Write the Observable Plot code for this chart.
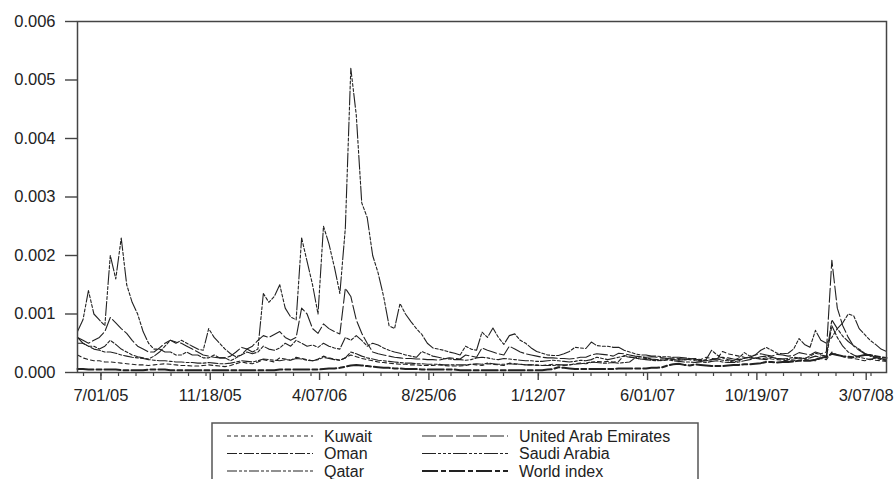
<!DOCTYPE html>
<html>
<head>
<meta charset="utf-8">
<script src="https://cdn.jsdelivr.net/npm/d3@7"></script>
<script src="https://cdn.jsdelivr.net/npm/@observablehq/plot@0.6"></script>
<style>
  html, body { margin: 0; padding: 0; background: #fff; overflow: hidden; }
  #wrap { position: relative; width: 895px; height: 479px; overflow: hidden; font-family: "Liberation Sans", Arial, sans-serif; }
  #chart { position: absolute; left: 0; top: 0; }
  #legend { position: absolute; left: 211px; top: 422px; }
</style>
</head>
<body>
<div id="wrap">
  <div id="chart"></div>
  <svg id="legend" width="488" height="80"></svg>
</div>
<script>
// ---- data (weekly samples, values in units of 1e-4) ----
const startDate = "2005-06-01";
const weeks = 149;

const saudiArabia = [
  7, 9, 14, 10, 9, 8, 20, 16, 23, 15,
  12, 10, 7, 5, 4, 4, 3.5, 3.5, 3, 3,
  3.5, 3, 3, 2.5, 2.5, 3, 2.5, 2.5, 2, 2.5,
  3, 4, 3.5, 4, 13.5, 12, 13, 15, 11, 9.5,
  9, 23, 19, 15, 10, 25, 22, 18, 13.5, 24.7,
  52, 44, 29, 26.5, 20, 17, 13, 8, 7.5, 11.8,
  10, 8.7, 7.5, 6.5, 5, 4.2, 4, 3.8, 3.5, 3.3,
  3, 4.5, 4, 3.8, 6.9, 6, 7.6, 6, 4.8, 6.3,
  6.6, 5.5, 5, 4.2, 3.6, 3.3, 3, 2.9, 2.9, 3.2,
  3.6, 4.3, 4.2, 4.1, 5.2, 4.6, 4.5, 4.5, 4.3, 4.3,
  3.8, 3.5, 3.2, 3, 3, 2.8, 2.8, 2.7, 2.7, 2.6,
  2.6, 2.5, 2.4, 2.2, 2, 2.2, 3.8, 3, 2.5, 2.2,
  2, 2.5, 3.4, 2.8, 3, 3.8, 4.3, 3.8, 3.3, 3.2,
  3.3, 4, 5.8, 4.8, 4.3, 7.2, 5.5, 5, 6, 7.5,
  8.5, 10, 9.7, 7.5, 6.5, 5.5, 4.8, 4, 3.6
];
const uae = [
  6, 5.5, 5, 5.5, 6, 7, 9.4, 8.5, 7.5, 6.7,
  5.5, 4.5, 4, 3.5, 3.5, 4.2, 5, 5.5, 5.2, 5,
  4.5, 4, 3.5, 3, 2.8, 2.6, 2.5, 2.5, 2.8, 3.5,
  4.3, 4, 4.5, 5.5, 6.3, 6, 6.5, 7, 6, 5.5,
  6, 11, 10, 7.5, 6.7, 8.3, 7.5, 7, 6.6, 14.4,
  13, 9, 6.7, 5, 3.5, 3.2, 3, 2.8, 2.6, 2.5,
  2.4, 2.4, 2.3, 2.3, 2.2, 2.2, 2.1, 2.3, 2.5, 2.4,
  2.3, 3, 2.8, 2.6, 4.2, 3.8, 3.5, 3.2, 3, 4.5,
  4, 3.5, 3.2, 3, 2.8, 2.6, 2.5, 2.5, 2.4, 2.4,
  2.3, 2.4, 2.6, 2.6, 3, 3.2, 3.1, 3, 2.8, 3.3,
  3.2, 3, 2.8, 2.7, 2.6, 2.7, 2.6, 2.5, 2.4, 2.5,
  2.4, 2.3, 2.2, 2, 1.9, 2, 2.2, 2.4, 2.6, 2.5,
  2.3, 2.2, 2.4, 2.6, 3, 3.2, 3, 2.8, 3.1, 3,
  2.8, 2.9, 3.4, 3.2, 3, 3.5, 3.2, 3.5, 19.2, 11,
  8, 6, 4.5, 3.8, 3.2, 3, 2.6, 2.4, 2.2
];
const qatar = [
  5, 5, 4.5, 4.5, 4, 4.5, 5.5, 4.8, 4, 3.5,
  3, 2.7, 2.5, 2.3, 2.8, 3.5, 4.5, 5.5, 5, 5.5,
  5, 4.5, 4, 3.8, 7.5, 6, 5, 4, 3.2, 2.7,
  3, 3.5, 3.2, 3.5, 4.5, 4, 3.8, 4.2, 5, 4.5,
  5.5, 5, 4.5, 4.7, 4.3, 5, 4.5, 4.2, 4, 6,
  5.5, 6.3, 5.5, 4.5, 5, 4.7, 4.2, 3.8, 3.5, 3.3,
  3, 2.8, 2.6, 3.6, 3.2, 2.8, 2.6, 2.4, 2.3, 2.2,
  2.2, 2.1, 2.2, 2.5, 2.6, 2.5, 2.3, 2.2, 2.4, 2.3,
  2.2, 2.1, 2, 2, 1.9, 1.9, 2, 2.1, 2, 1.9,
  1.8, 1.9, 2.1, 2, 2.2, 2.6, 2.4, 2.2, 2.4, 2.6,
  2.8, 2.6, 2.5, 2.7, 2.5, 2.3, 2.2, 2.3, 2.4, 2.2,
  2.1, 2.2, 2.4, 2.3, 2.1, 2, 2.2, 2.3, 2.1, 2,
  1.8, 2, 2.5, 2.6, 2.4, 2.7, 2.8, 2.6, 2.4, 2.3,
  2.4, 2.6, 2.5, 2.4, 2.8, 3.3, 3, 2.8, 9, 7.5,
  6.2, 5.3, 4.6, 4, 3.3, 2.8, 2.5, 2.2, 2
];
const kuwait = [
  3, 2.5, 2.2, 2, 2, 1.8, 1.8, 1.7, 1.6, 1.5,
  1.4, 1.3, 1.3, 1.2, 1.3, 1.4, 1.5, 1.4, 1.3, 1.2,
  1.2, 1.1, 1.1, 1.2, 1.3, 1.2, 1.1, 1, 1.2, 1.5,
  1.8, 1.6, 1.5, 1.8, 2.2, 2, 1.8, 2.5, 2.3, 2.1,
  2.6, 2.4, 2.2, 2, 2.3, 2.8, 2.5, 2.3, 2.1, 2.5,
  3, 2.7, 2.4, 2.2, 2, 1.8, 1.7, 1.6, 1.5, 1.4,
  1.4, 1.3, 1.3, 1.2, 1.2, 1.2, 1.3, 1.2, 1.1, 1.1,
  1.1, 1.2, 1.4, 1.3, 1.2, 1.5, 1.4, 1.3, 1.2, 1.6,
  1.5, 1.4, 1.3, 1.3, 1.2, 1.2, 1.3, 1.4, 1.3, 1.2,
  1.3, 1.5, 1.6, 1.5, 1.7, 1.9, 1.8, 1.9, 1.8, 1.9,
  2.9, 2.7, 2.5, 2.3, 2.4, 2.2, 2.1, 2, 2.2, 2.3,
  2.2, 2.1, 2.3, 2.4, 2.2, 2.6, 2.4, 2.3, 3.6, 3.2,
  3, 2.8, 2.6, 2.5, 2.4, 2.3, 2.5, 2.3, 2.2, 2.1,
  2, 2, 2.1, 2.2, 2.1, 2, 2.4, 2.2, 3.5, 3,
  2.7, 2.5, 2.4, 2.2, 2, 2.3, 2.1, 2, 1.9
];
const oman = [
  6, 5, 4.5, 4, 3.8, 3.5, 3.5, 3.3, 3, 2.8,
  2.6, 2.5, 2.4, 2.2, 2.1, 2, 2, 1.9, 1.8, 1.8,
  1.7, 1.7, 1.6, 1.6, 1.7, 1.6, 1.5, 1.5, 1.6, 1.8,
  2, 1.9, 1.8, 2, 2.3, 2.2, 2.1, 2, 2.2, 2.1,
  2.4, 2.3, 2.1, 2, 2.2, 2.6, 2.4, 2.2, 2.1, 2.5,
  3.5, 3.2, 2.8, 2.5, 2.3, 2.1, 2, 1.9, 1.8, 1.7,
  1.6, 1.6, 1.5, 1.5, 1.4, 1.4, 1.4, 1.3, 1.3, 1.3,
  1.3, 1.3, 1.4, 1.5, 1.4, 1.6, 1.5, 1.4, 1.4, 1.5,
  1.4, 1.4, 1.3, 1.3, 1.3, 1.2, 1.2, 1.2, 1.3, 1.3,
  1.3, 1.4, 1.5, 1.6, 1.8, 1.7, 1.6, 1.6, 1.7, 1.6,
  1.7, 1.8, 2.5, 2.3, 2.2, 2.1, 2, 2.1, 2.2, 2,
  1.9, 1.8, 1.8, 1.7, 1.8, 1.7, 1.9, 2, 1.8, 1.7,
  1.7, 1.8, 2, 2.2, 2.5, 2.3, 2.2, 2.6, 2.4, 2.3,
  2.2, 2.3, 2.5, 2.4, 2.5, 2.8, 2.6, 2.5, 8, 6,
  4.5, 3.5, 3, 2.6, 2.4, 2.2, 2.5, 2.3, 2.1
];
const worldIndex = [
  0.6, 0.6, 0.5, 0.5, 0.5, 0.5, 0.5, 0.5, 0.4, 0.4,
  0.4, 0.4, 0.4, 0.5, 0.5, 0.5, 0.5, 0.4, 0.4, 0.4,
  0.4, 0.4, 0.4, 0.4, 0.4, 0.4, 0.4, 0.4, 0.4, 0.4,
  0.4, 0.4, 0.4, 0.4, 0.4, 0.4, 0.4, 0.5, 0.5, 0.5,
  0.5, 0.5, 0.5, 0.5, 0.5, 0.6, 0.7, 0.7, 0.8, 1.0,
  1.2, 1.3, 1.2, 1.1, 1, 0.9, 0.8, 0.8, 0.7, 0.7,
  0.6, 0.6, 0.6, 0.5, 0.5, 0.5, 0.5, 0.5, 0.5, 0.5,
  0.4, 0.4, 0.4, 0.4, 0.4, 0.4, 0.4, 0.4, 0.4, 0.4,
  0.4, 0.4, 0.4, 0.4, 0.4, 0.4, 0.5, 0.6, 0.9, 0.8,
  0.7, 0.6, 0.6, 0.6, 0.6, 0.6, 0.6, 0.6, 0.6, 0.7,
  0.7, 0.7, 0.7, 0.7, 0.7, 0.8, 0.8, 0.9, 1.2, 1.4,
  1.5, 1.3, 1.2, 1.4, 1.3, 1.2, 1.1, 1.1, 1.1, 1.2,
  1.3, 1.3, 1.4, 1.4, 1.5, 1.6, 1.8, 1.8, 1.7, 1.8,
  1.8, 1.9, 2, 2, 2, 2.2, 2.5, 2.7, 3.2, 3,
  2.8, 2.7, 2.6, 2.8, 3, 3, 2.8, 2.6, 2.5
];

const seriesNames = ["Kuwait", "Oman", "Qatar", "United Arab Emirates", "Saudi Arabia", "World index"];
const seriesValues = [kuwait, oman, qatar, uae, saudiArabia, worldIndex];
const seriesDash = ["4,3", "10,2,3,2", "10,2,3,2,3,2", "14,3", "14,2,3,2,3,2,3,2", "16,3,5,3"];
const seriesWidth = [1.1, 1.1, 1.1, 1.1, 1.1, 2];

const xTickLabels = ["7/01/05", "11/18/05", "4/07/06", "8/25/06", "1/12/07", "6/01/07", "10/19/07", "3/07/08"];
const yTicks = [0, 0.001, 0.002, 0.003, 0.004, 0.005, 0.006];

// ---- build table ----
const parse = d3.utcParse("%Y-%m-%d");
const t0 = parse(startDate);
const dates = d3.range(weeks).map(i => d3.utcDay.offset(t0, 7 * i));
const t1 = dates[dates.length - 1];
const table = [];
seriesNames.forEach((name, s) => {
  seriesValues[s].forEach((v, i) => table.push({series: name, date: dates[i], value: v * 1e-4}));
});

const parseTick = d3.utcParse("%m/%d/%y");
const majorTicks = xTickLabels.map(parseTick);
const labelOf = new Map(majorTicks.map((d, i) => [+d, xTickLabels[i]]));
// minor ticks (every 16 trading days ~ 22.4 calendar days)
const minorTicks = d3.range(0, 60).map(k => new Date(+t0 + (7.7 + 22.41 * k) * 864e5)).filter(d => d <= t1);

const ink = "#222";
const marks = [
  Plot.axisY({ticks: yTicks, tickFormat: d3.format(".3f"), tickSize: 12, tickPadding: 10, stroke: "#444", strokeWidth: 1.4, label: null}),
  Plot.axisX({ticks: minorTicks, tickFormat: () => "", tickSize: 4, stroke: "#444", strokeWidth: 1.2, label: null}),
  Plot.axisX({ticks: majorTicks, tickFormat: d => labelOf.get(+d), tickSize: 8, tickPadding: 9, stroke: "#444", strokeWidth: 1.4, label: null})
];
seriesNames.forEach((name, s) => {
  marks.push(Plot.line(table.filter(d => d.series === name), {
    x: "date", y: "value", stroke: ink, strokeWidth: seriesWidth[s],
    strokeDasharray: seriesDash[s], strokeLinejoin: "round"
  }));
});
marks.push(Plot.frame({stroke: "#444", strokeWidth: 1.5}));

const chart = Plot.plot({
  width: 895,
  height: 415,
  marginTop: 21,
  marginBottom: 43,
  marginLeft: 77,
  marginRight: 9,
  style: {fontFamily: "'Liberation Sans', Arial, sans-serif", fontSize: "16.5px", color: ink, background: "white", overflow: "visible"},
  x: {type: "utc", domain: [t0, t1], label: null},
  y: {domain: [0, 0.006], label: null},
  marks
});
document.getElementById("chart").appendChild(chart);

// ---- legend ----
const leg = d3.select("#legend");
leg.append("rect").attr("x", 1).attr("y", 1).attr("width", 486).attr("height", 78)
  .attr("fill", "white").attr("stroke", "#555").attr("stroke-width", 1.5);
const order = [[0, 0], [1, 0], [2, 0], [3, 1], [4, 1], [5, 1]];
order.forEach(([s, col], k) => {
  const row = k % 3;
  const cy = 14 + row * 17.5;
  const x0 = col === 0 ? 16 : 211;
  leg.append("line").attr("x1", x0).attr("x2", x0 + 86).attr("y1", cy).attr("y2", cy)
    .attr("stroke", ink).attr("stroke-width", seriesWidth[s] === 2 ? 2 : 1.2)
    .attr("stroke-dasharray", seriesDash[s]);
  leg.append("text").attr("x", x0 + 97).attr("y", cy + 5.5)
    .attr("font-family", "'Liberation Sans', Arial, sans-serif").attr("font-size", 16)
    .attr("fill", ink).text(seriesNames[s]);
});
</script>
</body>
</html>
